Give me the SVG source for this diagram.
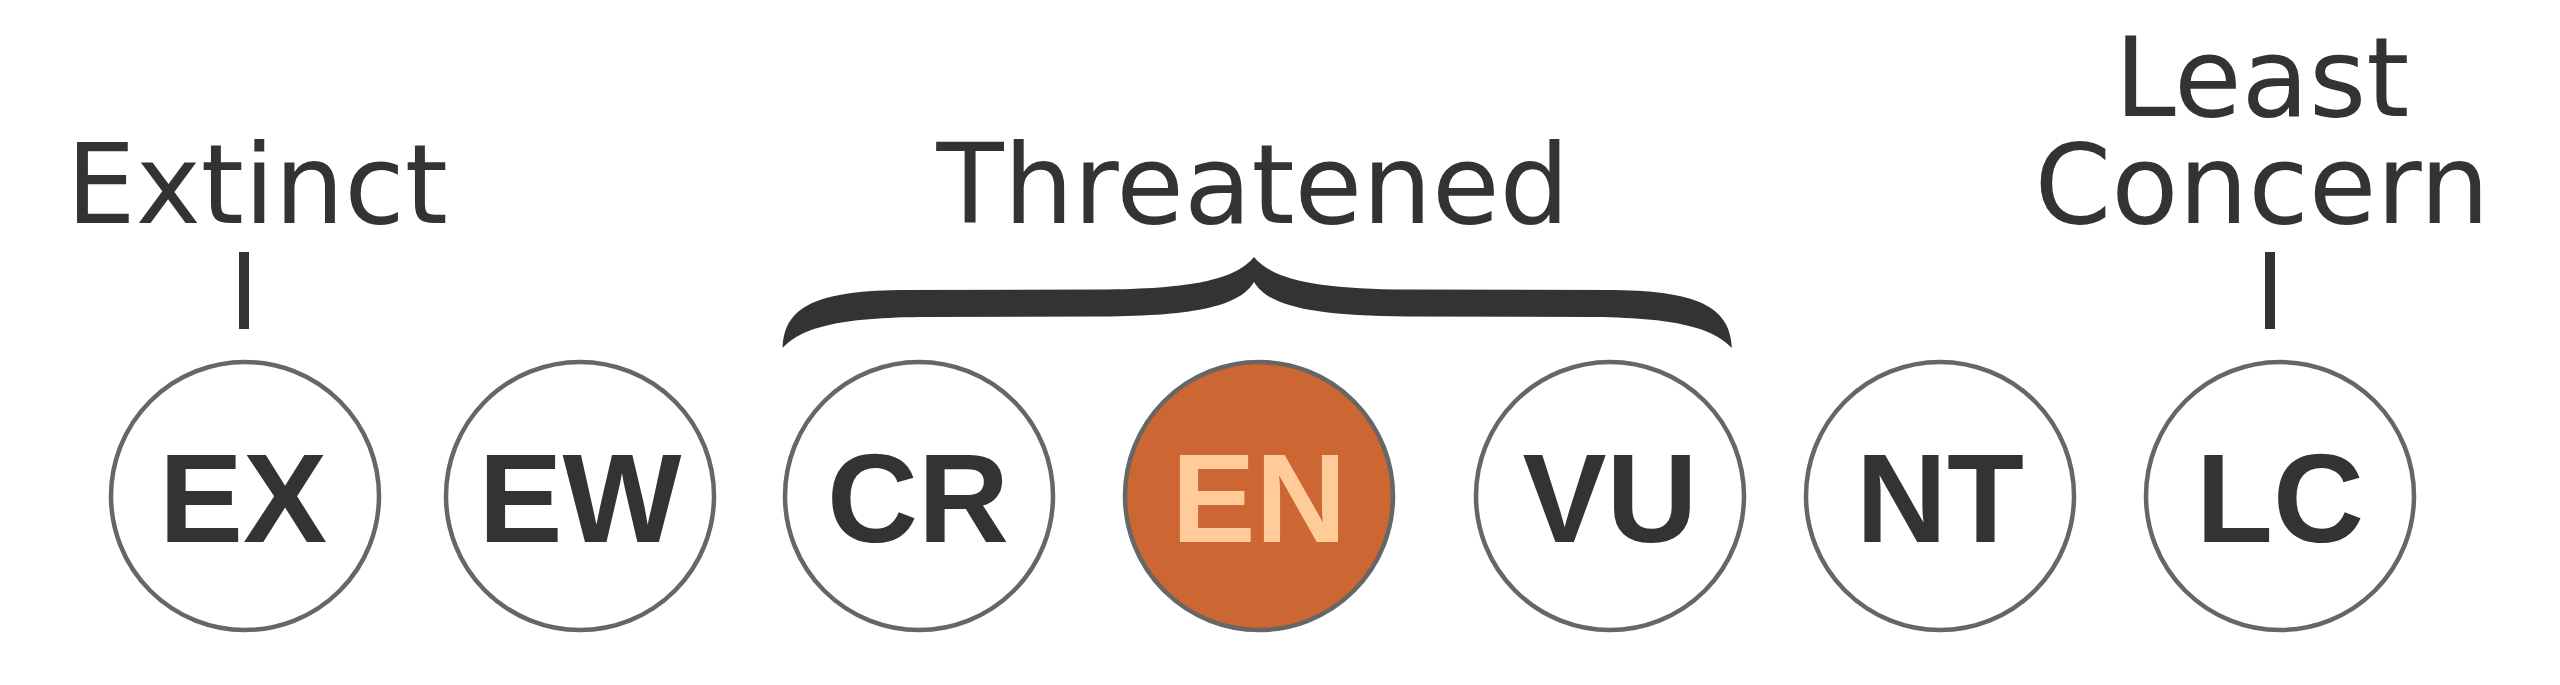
<svg xmlns="http://www.w3.org/2000/svg" width="2560" height="685" viewBox="0 0 2560 685">
<style>
.node circle{fill:#fff;stroke:#666;stroke-width:4.5}
.node text{font-family:"Liberation Sans",Arial,sans-serif;font-weight:bold;font-size:126px;fill:#333;text-anchor:middle}
.lbl{font-family:"DejaVu Sans",sans-serif;font-size:110px;fill:#333;text-anchor:middle}
#EN circle{fill:#CC6633}
#EN text{fill:#FFCC99}
</style>
<rect width="2560" height="685" fill="#fff"/>
<g id="labels">
<text class="lbl" x="257" y="223">Extinct</text>
<text class="lbl" x="1253" y="223">Threatened</text>
<text class="lbl" x="2262" y="116">Least</text>
<text class="lbl" x="2262" y="223">Concern</text>
</g>
<g id="connectors" fill="#333">
<rect x="239" y="252" width="10" height="77"/>
<rect x="2265" y="252" width="10" height="77"/>
<path d="M782.7,348 C784,310 810,291 900,290 L1100,289.5 C1190,289 1235,280 1254,257 C1273,280 1318,289 1408,289.5 L1614,290 C1704,291 1730,310 1732,348 C1714,330 1684,318 1594,317 L1408,316.5 C1308,316 1268,305 1254,282 C1240,305 1200,316 1100,316.5 L920,317 C830,318 800,330 782.7,348 Z"/>
</g>
<g id="EX" class="node"><circle cx="245" cy="496" r="134"/><text x="243" y="542">EX</text></g>
<g id="EW" class="node"><circle cx="580" cy="496" r="134"/><text x="580" y="542">EW</text></g>
<g id="CR" class="node"><circle cx="919" cy="496" r="134"/><text x="918" y="542">CR</text></g>
<g id="EN" class="node"><circle cx="1259" cy="496" r="134"/><text x="1259" y="542">EN</text></g>
<g id="VU" class="node"><circle cx="1610" cy="496" r="134"/><text x="1610" y="542">VU</text></g>
<g id="NT" class="node"><circle cx="1940" cy="496" r="134"/><text x="1940" y="542">NT</text></g>
<g id="LC" class="node"><circle cx="2280" cy="496" r="134"/><text x="2280" y="542">LC</text></g>
</svg>
